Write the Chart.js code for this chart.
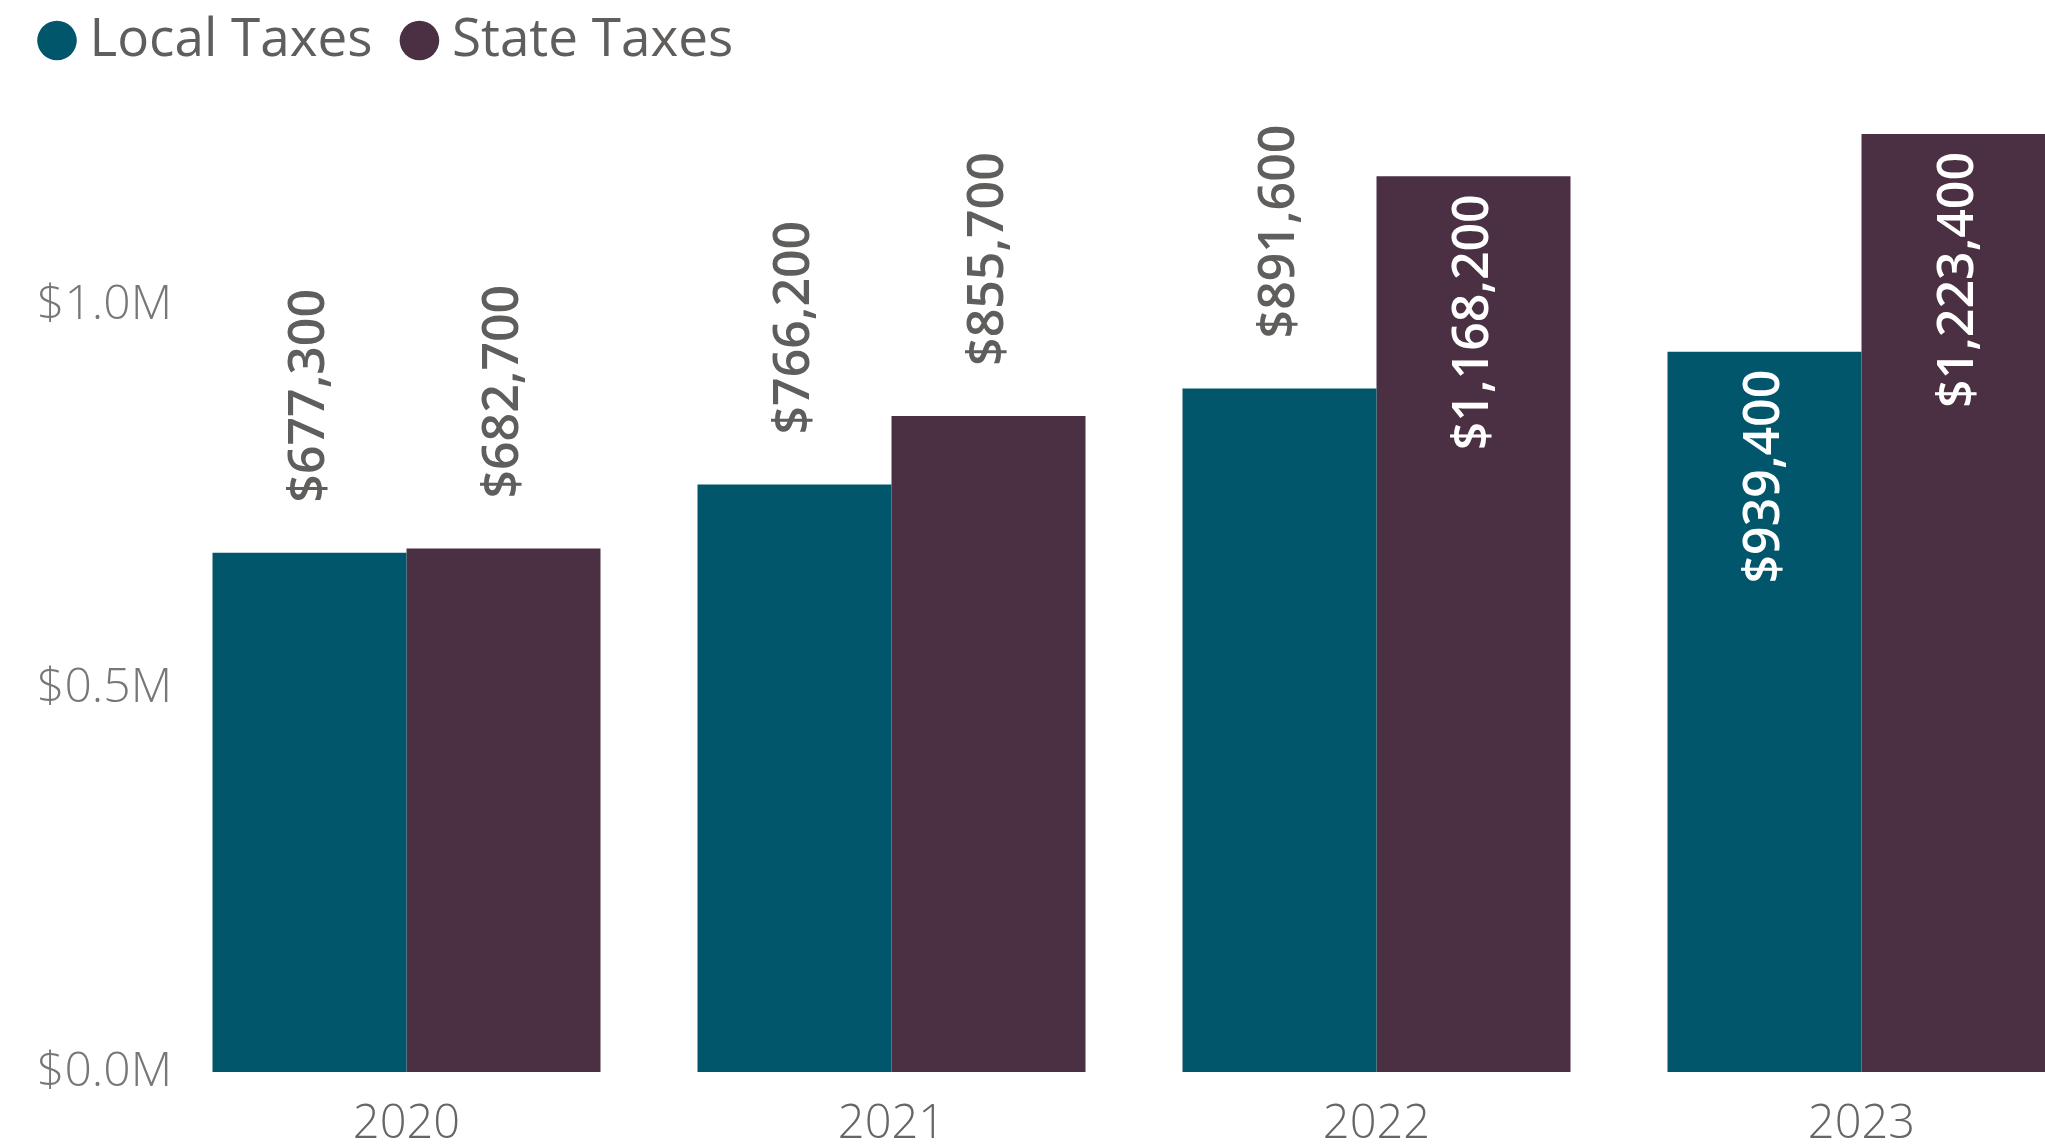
<!DOCTYPE html>
<html>
<head>
<meta charset="utf-8">
<script src="https://cdn.jsdelivr.net/npm/chart.js@4/dist/chart.umd.min.js"></script>
<style>
  html, body { margin: 0; padding: 0; background: #fff; overflow: hidden; }
  #wrap { width: 2104px; height: 1144px; }
</style>
</head>
<body>
<div id="wrap"><canvas id="taxChart"></canvas></div>
<script>
const years = ['2020', '2021', '2022', '2023'];
const localTaxes = [677300, 766200, 891600, 939400];
const stateTaxes = [682700, 855700, 1168200, 1223400];
const yTicks = [0, 500000, 1000000];

const fmtMoney = v => '$' + v.toLocaleString('en-US');

// value labels, rotated, above the bar or inside its top when there is no room
const barLabels = {
  id: 'barLabels',
  afterDatasetsDraw(chart) {
    const ctx = chart.ctx;
    const limit = chart.chartArea.top - 25;
    chart.data.datasets.forEach((ds, i) => {
      chart.getDatasetMeta(i).data.forEach((bar, j) => {
        const text = fmtMoney(ds.data[j]);
        ctx.save();
        ctx.font = '600 50px "Open Sans"';
        const w = ctx.measureText(text).width;
        const inside = bar.y - 50 - w < limit;
        ctx.translate(bar.x, inside ? bar.y + 18 : bar.y - 50);
        ctx.rotate(-Math.PI / 2);
        ctx.textAlign = inside ? 'right' : 'left';
        ctx.textBaseline = 'middle';
        ctx.fillStyle = inside ? '#ffffff' : '#605e5c';
        ctx.fillText(text, 0, 0);
        ctx.restore();
      });
    });
  }
};

// extra room under the legend
const legendSpace = {
  id: 'legendSpace',
  beforeInit(chart) {
    const fit = chart.legend.fit;
    chart.legend.fit = function () {
      fit.bind(chart.legend)();
      this.height += 57;
    };
  }
};

new Chart(document.getElementById('taxChart'), {
  type: 'bar',
  data: {
    labels: years,
    datasets: [
      { label: 'Local Taxes', data: localTaxes, backgroundColor: '#01566b' },
      { label: 'State Taxes', data: stateTaxes, backgroundColor: '#4a3042' }
    ]
  },
  options: {
    responsive: true,
    maintainAspectRatio: false,
    animation: false,
    layout: { padding: { left: 10, top: -27, right: 0, bottom: 0 } },
    datasets: { bar: { categoryPercentage: 0.8, barPercentage: 1.0 } },
    plugins: {
      tooltip: { enabled: false },
      legend: {
        position: 'top',
        align: 'start',
        labels: {
          usePointStyle: true,
          pointStyle: 'circle',
          boxWidth: 12,
          boxHeight: 28,
          padding: 41,
          color: '#605e5c',
          font: { family: '"Open Sans"', size: 53 }
        }
      }
    },
    scales: {
      x: {
        grid: { display: false, drawTicks: false },
        border: { display: false },
        afterFit: s => { s.height = 72; },
        ticks: {
          color: '#666666',
          padding: 24,
          font: { family: '"Open Sans"', size: 47, weight: '300' }
        }
      },
      y: {
        min: 0,
        max: 1223400,
        grid: { display: false, drawTicks: false },
        border: { display: false },
        afterBuildTicks: s => { s.ticks = yTicks.map(v => ({ value: v })); },
        afterFit: s => { s.width = 154; },
        ticks: {
          mirror: true,
          padding: -127,
          color: '#777777',
          font: { family: '"Open Sans"', size: 48, weight: '300' },
          callback: v => '$' + (v / 1000000).toFixed(1) + 'M'
        }
      }
    }
  },
  plugins: [barLabels, legendSpace]
});
</script>
</body>
</html>
